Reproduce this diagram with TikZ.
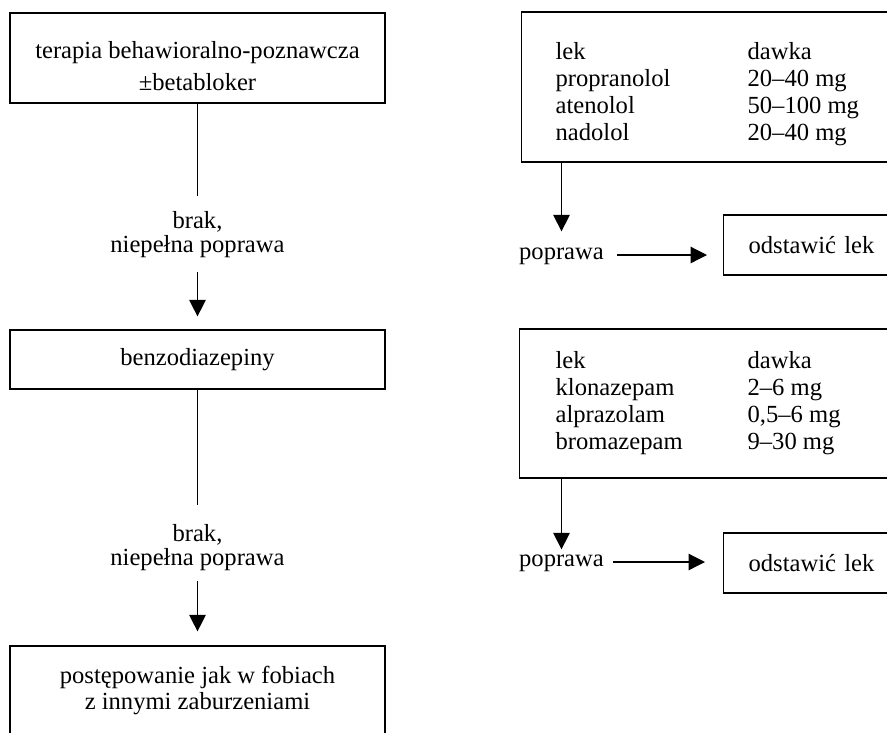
\documentclass[tikz,border=0pt]{standalone}
\usepackage{fontspec}
\setmainfont{Liberation Serif}
\usetikzlibrary{arrows.meta,positioning}

\newcommand{\dawka}[2]{\makebox[38.4mm][l]{#1}#2}

\begin{document}
\begin{tikzpicture}[
    x=0.2mm, y=-0.2mm,
    font=\fontsize{14}{15.4}\selectfont,
    line width=0.7pt,
    box/.style={draw, align=center, inner sep=0pt, minimum width=75mm},
    openbox/.style={draw, anchor=west, inner sep=0pt, minimum width=80mm},
    stopbox/.style={draw, anchor=west, inner xsep=5mm, inner ysep=0pt, text width=30mm, align=left, minimum height=12mm},
    lbl/.style={align=center, inner sep=0pt, font=\fontsize{14}{13.7}\selectfont},
    word/.style={inner sep=0pt, text height=1ex, text depth=0pt},
    list/.style={align=left, inner sep=0pt, anchor=west},
    >={Triangle[length=3.3mm, width=3.3mm]}
  ]
  \useasboundingbox (0,0) rectangle (887,732);
  \clip (0,0) rectangle (887,732);

  % lewa kolumna
  \node[box, minimum height=18mm] (cbt) at (197.5,58) {};
  \node[lbl, font=\fontsize{14}{18.2}\selectfont] (cbttext) at (197.5,66) {terapia behawioralno-poznawcza\\±betabloker};
  \node[lbl] (fail1) at (197.5,235) {brak,\\niepełna poprawa};
  \node[box, minimum height=11.8mm] (bzd) at (197.5,359.5) {benzodiazepiny};
  \node[lbl] (fail2) at (197.5,547.5) {brak,\\niepełna poprawa};
  \node[box, minimum height=17.6mm, font=\fontsize{14}{14.8}\selectfont] (other) at (197.5,690) {postępowanie jak w fobiach\\z innymi zaburzeniami};

  % prawa kolumna
  \node[openbox, minimum height=30mm] (beta) at (521,87) {};
  \node[list] (betalist) at (555,94) {\dawka{lek}{dawka}\\ \dawka{propranolol}{20–40 mg}\\ \dawka{atenolol}{50–100 mg}\\ \dawka{nadolol}{20–40 mg}};
  \node[word] (better1) at (561.5,255) {poprawa};
  \node[stopbox] (stop1) at (723,245) {odstawić lek};

  \node[openbox, minimum height=29.8mm] (benzo) at (519,403.5) {};
  \node[list] (benzolist) at (555,403) {\dawka{lek}{dawka}\\ \dawka{klonazepam}{2–6 mg}\\ \dawka{alprazolam}{0,5–6 mg}\\ \dawka{bromazepam}{9–30 mg}};
  \node[word] (better2) at (561.5,562) {poprawa};
  \node[stopbox] (stop2) at (723,563) {odstawić lek};

  % strzalki
  \draw[shorten >=3mm] (cbt) -- (fail1);
  \draw[->, shorten <=2.6mm, shorten >=2.6mm] (fail1) -- (bzd);
  \draw[shorten >=3.8mm] (bzd) -- (fail2);
  \draw[->, shorten <=2mm, shorten >=2.8mm] (fail2) -- (other);

  \draw[->, shorten >=3.8mm] (beta.south -| better1) -- (better1);
  \draw[->, shorten <=2.6mm, shorten >=3.2mm] (better1.east) -- (better1.east -| stop1.west);
  \draw[->, shorten >=1.6mm] (benzo.south -| better2) -- (better2);
  \draw[->, shorten <=1.8mm, shorten >=3.6mm] (better2.east) -- (better2.east -| stop2.west);
\end{tikzpicture}
\end{document}
